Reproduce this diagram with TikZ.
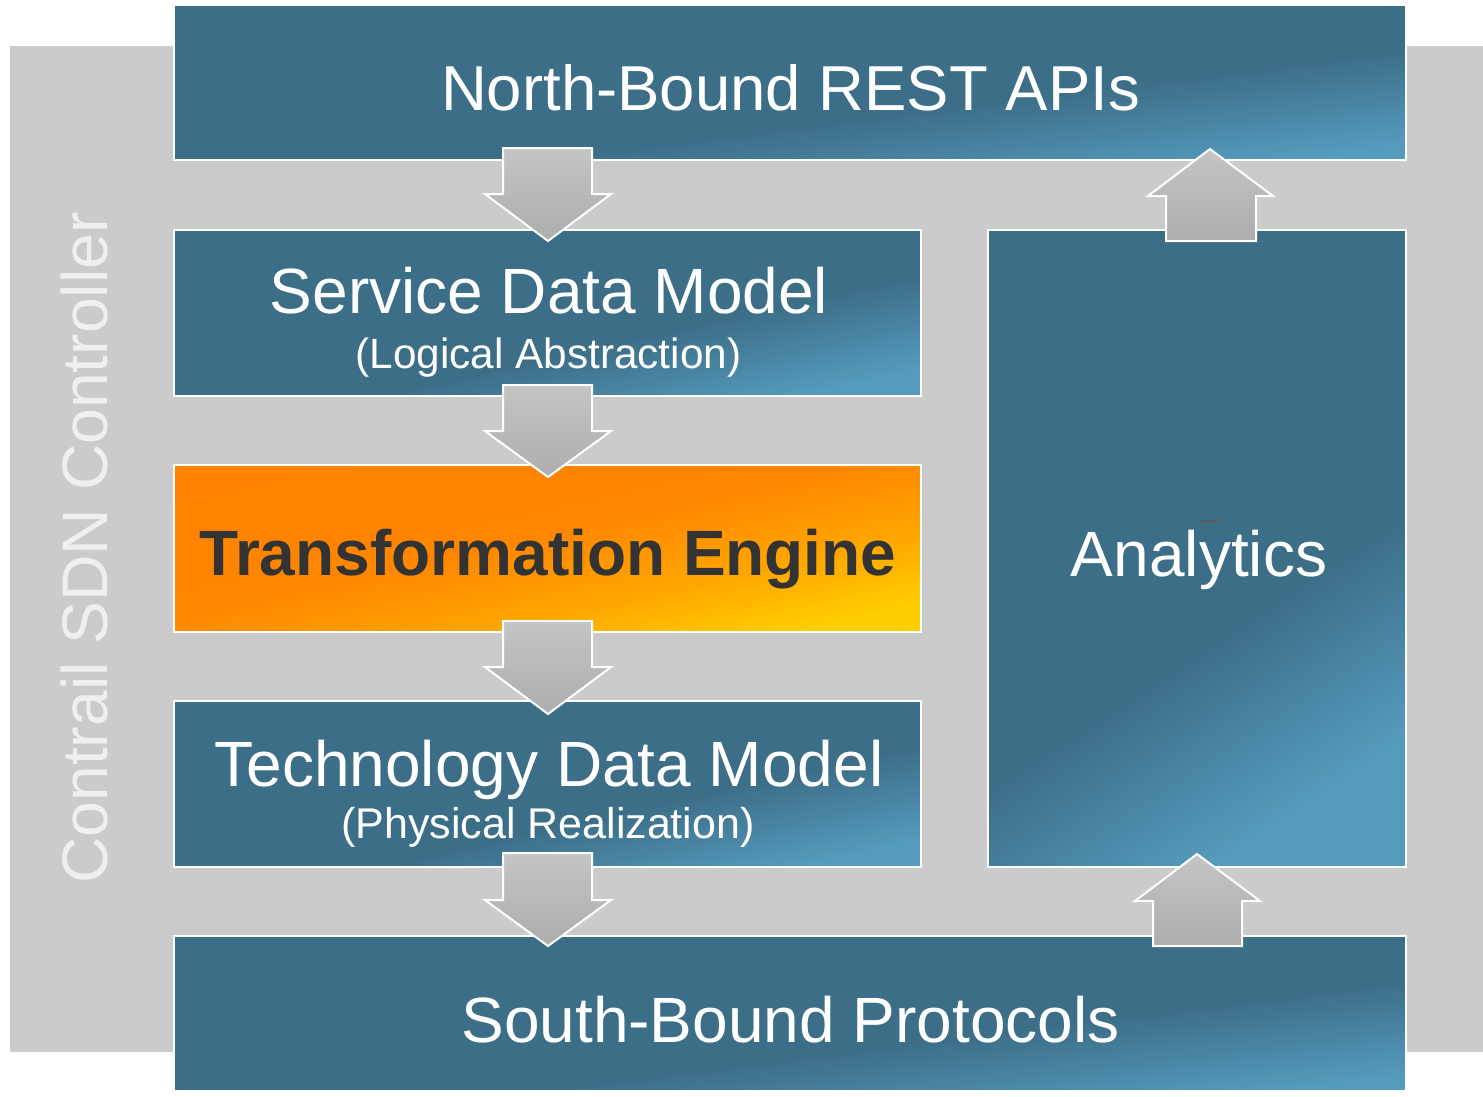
\documentclass[tikz,border=0pt]{standalone}
\usepackage{fontspec}
\setmainfont{Liberation Sans}
\usetikzlibrary{shadings}
\definecolor{bgray}{HTML}{CBCBCB}
\definecolor{boxblue}{HTML}{3C6E88}
\definecolor{boxlight}{HTML}{559BBD}
\definecolor{orA}{HTML}{FF8000}
\definecolor{orB}{HTML}{FF8600}
\definecolor{orM}{HTML}{FFA600}
\definecolor{orC}{HTML}{FFCE00}
\definecolor{arrT}{HTML}{C4C4C4}
\definecolor{arrB}{HTML}{ADADAD}
\definecolor{darktext}{HTML}{333333}
\definecolor{sidetext}{HTML}{EFEFEF}
\pgfdeclarehorizontalshading{bluecorner}{100bp}{color(0bp)=(boxblue); color(58bp)=(boxblue); color(75bp)=(boxlight); color(100bp)=(boxlight)}
\pgfdeclarehorizontalshading{orangecorner}{100bp}{color(0bp)=(orA); color(47bp)=(orB); color(62bp)=(orM); color(75bp)=(orC); color(100bp)=(orC)}
\tikzset{
  bluebox/.style={draw=white, line width=2pt, shading=bluecorner, shading angle=#1},
  orangebox/.style={draw=white, line width=2pt, shading=orangecorner, shading angle=#1},
  arrowshape/.style={draw=white, line width=2pt, top color=arrT, bottom color=arrB, line join=miter},
  bigtext/.style={text=white, font=\fontsize{64}{76}\selectfont, anchor=base, inner sep=0pt},
  smalltext/.style={text=white, font=\fontsize{42}{50}\selectfont, anchor=base, inner sep=0pt},
}
\begin{document}
\begin{tikzpicture}[x=1pt,y=-1pt]
\useasboundingbox (0,0) rectangle (1483,1096);
% background
\fill[bgray] (10,46) rectangle (1483,1052);
% boxes
\shade[bluebox=-82.8] (174,5) rectangle (1406,160);
\shade[bluebox=-77.5] (174,230) rectangle (921,396);
\shade[orangebox=-77.4] (174,465) rectangle (921,632);
\shade[bluebox=-77.5] (174,701) rectangle (921,867);
\shade[bluebox=-82.8] (174,936) rectangle (1406,1091);
\shade[bluebox=-56.7] (988,230) rectangle (1406,867);
% down arrows
\foreach \t/\h/\b in {148/194/241, 385/431/477, 621/667/714, 853/900/946}{
  \path[arrowshape] (503,\t) -- (592,\t) -- (592,\h) -- (611,\h) -- (548,\b) -- (485,\h) -- (503,\h) -- cycle;
}
% up arrows
\path[arrowshape] (1166,241) -- (1256,241) -- (1256,196) -- (1273,196) -- (1210,149) -- (1148,196) -- (1166,196) -- cycle;
\path[arrowshape] (1153,946) -- (1242,946) -- (1242,901) -- (1260,901) -- (1197,854) -- (1135,901) -- (1153,901) -- cycle;
% texts
\node[bigtext, font=\fontsize{63.5}{76}\selectfont] (tnorth) at (790.5,110) {North-Bound REST APIs};
\node[bigtext] (tservice) at (549,313) {Service Data Model};
\node[smalltext, font=\fontsize{42.3}{50}\selectfont] (tlogical) at (548.5,368) {(Logical Abstraction)};
\node[bigtext, text=darktext, font=\fontsize{64}{76}\selectfont\bfseries] (ttrans) at (548,575) {Transformation Engine};
\node[bigtext] (ttech) at (549,786) {Technology Data Model};
\node[smalltext, font=\fontsize{43}{50}\selectfont] (tphys) at (548,838) {(Physical Realization)};
\node[bigtext] (tsouth) at (790.5,1042) {South-Bound Protocols};
\node[bigtext] (tanalytics) at (1199,576) {Analytics};
\node[bigtext, text=sidetext, font=\fontsize{64.3}{76}\selectfont, rotate=90] (tside) at (107,548) {Contrail SDN Controller};
\draw[darktext!80, line width=1.5pt] (1202,521) -- (1219,521);
\end{tikzpicture}
\end{document}
